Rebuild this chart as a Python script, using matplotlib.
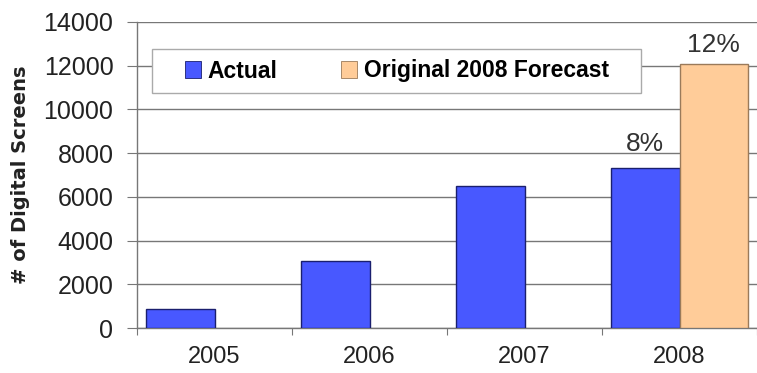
import matplotlib.pyplot as plt
import matplotlib.patches as mpatches
import numpy as np

plt.rcParams['font.family'] = ['Liberation Sans', 'DejaVu Sans']

years = ['2005', '2006', '2007', '2008']
actual = [870, 3050, 6500, 7320]
forecast = [0, 0, 0, 12100]
pct_actual = '8%'
pct_forecast = '12%'

yticks = [0, 2000, 4000, 6000, 8000, 10000, 12000, 14000]

fig = plt.figure(figsize=(7.57, 3.73), dpi=100)
ax = fig.add_axes([137 / 757, 1 - 328 / 373, 1 - 137 / 757, (328 - 22) / 373])

x = np.arange(len(years))
width = 0.44

ax.bar(x - width / 2, actual, width, color='#4858FF', edgecolor='#1a1f6e',
       linewidth=1.0, zorder=3)
fc = [v if v > 0 else np.nan for v in forecast]
ax.bar(x + width / 2, fc, width, color='#FFCC99', edgecolor='#9a7a5a',
       linewidth=1.0, zorder=3)

# percentage labels over the 2008 bars
ax.text(x[3] - width / 2, actual[3] + 550, pct_actual, ha='center', va='bottom',
        fontsize=19, color='#333333')
ax.text(x[3] + width / 2, forecast[3] + 300, pct_forecast, ha='center', va='bottom',
        fontsize=19, color='#333333')

ax.set_xlim(-0.5, len(years) - 0.5)
ax.set_ylim(0, 14000)
ax.set_yticks(yticks)
ax.set_yticklabels([str(t) for t in yticks], fontsize=18, color='#222222')
ax.yaxis.grid(True, color='#777777', linewidth=1.0, zorder=0)
ax.set_axisbelow(True)

# category labels centered, ticks on the boundaries
ax.set_xticks(np.arange(-0.5, len(years), 1.0))
ax.set_xticklabels([''] * (len(years) + 1))
ax.set_xticks(x, minor=True)
ax.set_xticklabels(years, minor=True, fontsize=17, color='#222222')
ax.tick_params(axis='x', which='minor', length=0, pad=13)
ax.tick_params(axis='x', which='major', length=5, direction='out', color='#777777')
ax.tick_params(axis='y', length=7, direction='out', color='#777777', pad=10)

for side in ['top', 'right']:
    ax.spines[side].set_visible(False)
for side in ['left', 'bottom']:
    ax.spines[side].set_color('#777777')
    ax.spines[side].set_linewidth(1.0)

ax.set_ylabel('# of Digital Screens', fontsize=14, fontweight='bold',
              family='DejaVu Sans', color='#222222')
ax.yaxis.set_label_coords(-0.172, 0.5)

# legend box
ax.add_patch(mpatches.Rectangle((152 / 757, 1 - 93 / 373), (641 - 152) / 757,
                                44 / 373, transform=fig.transFigure,
                                facecolor='white', edgecolor='#aaaaaa',
                                linewidth=1.0, zorder=5, clip_on=False))
h1 = mpatches.Patch(facecolor='#4858FF', edgecolor='#1a1f6e', linewidth=0.6)
h2 = mpatches.Patch(facecolor='#FFCC99', edgecolor='#9a7a5a', linewidth=0.6)
leg = ax.legend([h1, h2], ['Actual', 'Original 2008 Forecast'], ncol=2,
                loc='center left', bbox_to_anchor=(185 / 757, 1 - 71 / 373),
                bbox_transform=fig.transFigure, frameon=False,
                prop={'weight': 'bold', 'size': 16.5},
                handlelength=0.7, handleheight=0.7, handletextpad=0.3,
                columnspacing=2.75, borderpad=0, borderaxespad=0)
leg.set_zorder(6)

fig.savefig('out.png', dpi=100)
